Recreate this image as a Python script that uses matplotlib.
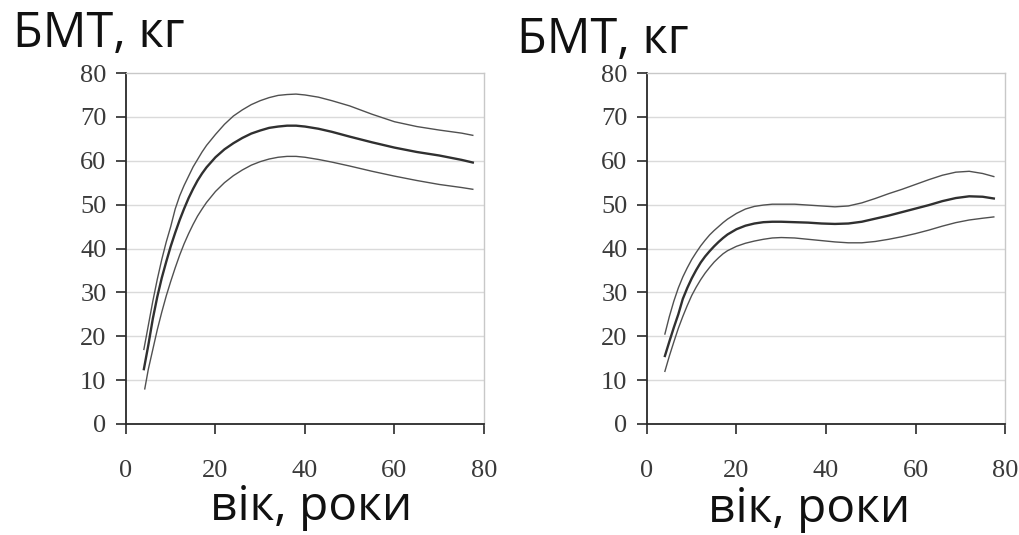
import matplotlib
matplotlib.use("Agg")
import matplotlib.pyplot as plt

# ---- data ----
age_L = [4, 5, 6, 7, 8, 9, 10, 11, 12, 13, 14, 15, 16, 17, 18, 20, 22, 24, 26, 28, 30, 32, 34, 36, 38,
         40, 43, 46, 50, 55, 60, 65, 70, 75, 77.5]
L_upper = [17, 22.5, 28, 33, 37.5, 41.5, 45, 49, 52, 54.4, 56.5, 58.6, 60.3, 62, 63.5, 66, 68.3, 70.2, 71.6,
           72.8, 73.7, 74.4, 74.9, 75.1, 75.2, 75, 74.5, 73.7, 72.5, 70.6, 68.9, 67.8, 67, 66.3, 65.8]
L_mid = [12.5, 18, 24, 29, 33.3, 37, 40.5, 43.6, 46.5, 49.1, 51.5, 53.6, 55.5, 57.1, 58.5, 60.8, 62.6, 64,
         65.2, 66.2, 66.9, 67.5, 67.8, 68, 68, 67.8, 67.3, 66.6, 65.5, 64.2, 63, 62, 61.2, 60.2, 59.6]

age_L_low = [4.2, 5, 6, 7, 8, 9, 10, 11, 12, 13, 14, 15, 16, 17, 18, 20, 22, 24, 26, 28, 30, 32, 34, 36, 38,
             40, 43, 46, 50, 55, 60, 65, 70, 75, 77.5]
L_low = [8, 12.5, 17, 21.5, 25.5, 29.2, 32.5, 35.6, 38.5, 41.1, 43.4, 45.5, 47.4, 49, 50.5, 53, 55, 56.6,
         57.9, 59, 59.8, 60.4, 60.8, 61, 61, 60.8, 60.3, 59.7, 58.8, 57.6, 56.5, 55.5, 54.6, 53.9, 53.5]

age_R = [4, 5, 6, 7, 8, 9, 10, 11, 12, 13, 14, 15, 16, 17, 18, 20, 22, 24, 26, 28, 30, 33, 36, 39, 42,
         45, 48, 51, 54, 57, 60, 63, 66, 69, 72, 75, 77.5]
R_upper = [20.5, 24.5, 28, 31, 33.5, 35.6, 37.5, 39.1, 40.6, 41.9, 43.1, 44.1, 45, 45.9, 46.7, 48, 49, 49.6,
           49.9, 50.1, 50.1, 50.1, 49.9, 49.7, 49.5, 49.7, 50.4, 51.4, 52.5, 53.5, 54.6, 55.7, 56.7, 57.4,
           57.6, 57.1, 56.4]
R_mid = [15.5, 18.8, 22, 25, 28.5, 31, 33.2, 35.1, 36.8, 38.2, 39.4, 40.5, 41.5, 42.4, 43.2, 44.4, 45.2,
         45.7, 46, 46.1, 46.1, 46, 45.9, 45.7, 45.6, 45.7, 46.1, 46.8, 47.5, 48.3, 49.1, 49.9, 50.8, 51.5,
         51.9, 51.8, 51.4]
R_low = [12, 15.5, 18.7, 21.8, 24.5, 27, 29.3, 31.2, 32.9, 34.4, 35.7, 36.9, 37.9, 38.8, 39.5, 40.5, 41.2,
         41.7, 42.1, 42.4, 42.5, 42.4, 42.1, 41.8, 41.5, 41.3, 41.3, 41.6, 42.1, 42.7, 43.4, 44.2, 45.1,
         45.9, 46.5, 46.9, 47.2]

x_ticks = [0, 20, 40, 60, 80]
y_ticks = [0, 10, 20, 30, 40, 50, 60, 70, 80]
y_label = "БМТ, кг"
x_label = "вік, роки"

fig = plt.figure(figsize=(10.2, 5.35), dpi=100)
fig.patch.set_facecolor("white")

def style_axes(ax):
    ax.set_xlim(0, 80)
    ax.set_ylim(0, 80)
    ax.set_xticks(x_ticks)
    ax.set_yticks(y_ticks)
    for t in y_ticks[1:-1]:
        ax.axhline(t, color="#dadada", lw=1.0, zorder=0)
    for s in ("left", "bottom"):
        ax.spines[s].set_color("#2a2a2a")
        ax.spines[s].set_linewidth(1.3)
    for s in ("top", "right"):
        ax.spines[s].set_color("#c8c8c8")
        ax.spines[s].set_linewidth(1.0)
    ax.tick_params(axis="y", direction="out", length=7, width=1.2, color="#2a2a2a",
                   pad=7, labelsize=19, labelcolor="#3a3a3a")
    ax.tick_params(axis="x", direction="out", length=7, width=1.2, color="#2a2a2a",
                   pad=19, labelsize=19, labelcolor="#3a3a3a")
    for lab in ax.get_xticklabels() + ax.get_yticklabels():
        lab.set_family("Liberation Serif")

axL = fig.add_axes([0.1235, 0.2075, 0.351, 0.656])
axL.plot(age_L, L_upper, color="#505050", lw=1.0)
axL.plot(age_L, L_mid, color="#303030", lw=1.7)
axL.plot(age_L_low, L_low, color="#505050", lw=1.0)
style_axes(axL)

axR = fig.add_axes([0.6343, 0.2075, 0.351, 0.656])
axR.plot(age_R, R_upper, color="#505050", lw=1.0)
axR.plot(age_R, R_mid, color="#303030", lw=1.7)
axR.plot(age_R, R_low, color="#505050", lw=1.0)
style_axes(axR)

fig.text(0.0127, (535 - 47) / 535, y_label, family="Open Sans", fontsize=35, color="#111111",
         ha="left", va="baseline")
fig.text(0.507, (535 - 53) / 535, y_label, family="Open Sans", fontsize=35, color="#111111",
         ha="left", va="baseline")
fig.text(0.2059, 0.028, x_label, family="Open Sans", fontsize=34.5, color="#111111",
         ha="left", va="baseline")
fig.text(0.694, 0.024, x_label, family="Open Sans", fontsize=34.5, color="#111111",
         ha="left", va="baseline")

fig.savefig("out.png", dpi=100, facecolor="white")
